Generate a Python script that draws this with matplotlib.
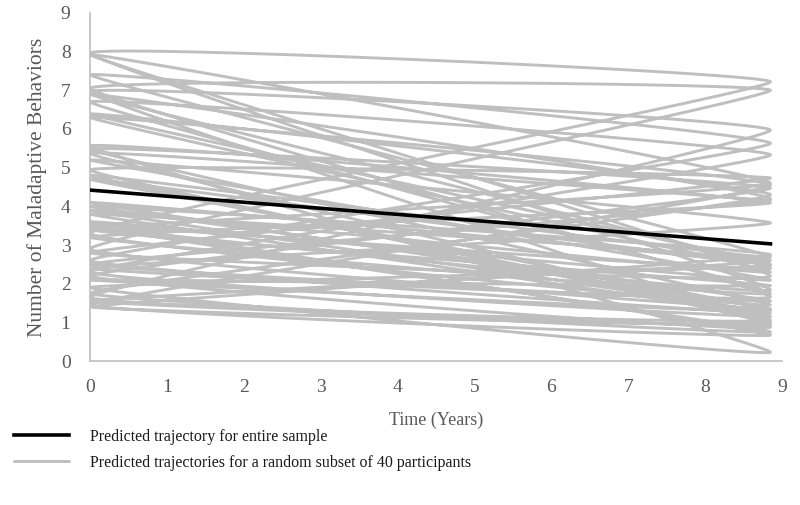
import numpy as np
import matplotlib
matplotlib.use("Agg")
import matplotlib.pyplot as plt

# ---- data ----
time_points = [0.0, 8.85]
# predicted trajectory for entire sample
sample_start = 4.42
sample_end = 3.03
# 40 participants (in series order): value at time 0 and at final time
part_start = [3.45, 7.96, 3.30, 5.48, 2.20, 6.96, 1.65, 4.80, 7.40, 2.60,
              3.90, 6.30, 1.45, 3.60, 5.20, 2.40, 7.05, 2.90, 4.10, 1.90,
              5.56, 3.20, 6.70, 2.30, 3.80, 1.55, 4.94, 2.80, 7.92, 3.40,
              2.10, 4.70, 6.39, 1.75, 3.50, 6.90, 2.50, 4.00, 1.40, 5.37]
part_end = [1.84, 7.22, 1.45, 4.47, 0.88, 5.97, 1.06, 2.69, 5.63, 1.24,
            2.30, 4.55, 0.67, 2.09, 3.57, 1.66, 7.00, 1.35, 2.48, 0.23,
            4.09, 1.75, 5.33, 1.15, 2.60, 0.95, 4.73, 2.20, 4.60, 1.95,
            1.30, 2.50, 4.30, 0.75, 2.40, 4.20, 1.55, 2.75, 1.00, 4.15]
x_ticks = list(range(0, 10))
y_ticks = list(range(0, 10))
legend_labels = ["Predicted trajectory for entire sample",
                 "Predicted trajectories for a random subset of 40 participants"]

# ---- build one smoothed series (spreadsheet-style smoothed scatter line) ----
px, py = [], []
for s, e in zip(part_start, part_end):
    px += [time_points[0], time_points[1]]
    py += [s, e]
P = np.column_stack([px, py])
n = len(P)
k = 0.05
curve = []
tt = np.linspace(0, 1, 60)
for i in range(n - 1):
    p0 = P[i - 1] if i > 0 else P[i]
    p1 = P[i]
    p2 = P[i + 1]
    p3 = P[i + 2] if i + 2 < n else P[i + 1]
    c1 = p1 + (p2 - p0) * k
    c2 = p2 - (p3 - p1) * k
    b = ((1 - tt) ** 3)[:, None] * p1 + (3 * (1 - tt) ** 2 * tt)[:, None] * c1 \
        + (3 * (1 - tt) * tt ** 2)[:, None] * c2 + (tt ** 3)[:, None] * p2
    curve.append(b if i == 0 else b[1:])
curve = np.vstack(curve)

# ---- figure ----
plt.rcParams['font.family'] = ['Liberation Serif', 'DejaVu Serif']
fig = plt.figure(figsize=(8.0, 5.05), dpi=100)
ax = fig.add_axes([0.1125, 0.2851, 0.8650, 0.6892])

grey = '#bfbfbf'
txt = '#595959'
l2, = ax.plot(curve[:, 0], curve[:, 1], color=grey, lw=2.1,
              solid_capstyle='round', solid_joinstyle='round', zorder=2)
l1, = ax.plot(time_points, [sample_start, sample_end], color='black', lw=2.6, zorder=3)

ax.set_xlim(0, 9)
ax.set_ylim(0, 9)
ax.set_xticks(x_ticks)
ax.set_yticks(y_ticks)
ax.tick_params(axis='both', length=0, labelsize=14, colors=txt)
ax.tick_params(axis='x', pad=13)
ax.tick_params(axis='y', pad=14)
for side in ['top', 'right']:
    ax.spines[side].set_visible(False)
for side in ['left', 'bottom']:
    ax.spines[side].set_color(grey)
    ax.spines[side].set_linewidth(1.2)

ax.set_xlabel("Time (Years)", fontsize=13, color=txt, labelpad=11)
ax.set_ylabel("Number of Maladaptive Behaviors", fontsize=15.5, color=txt, labelpad=10)

fig.legend([l1, l2], legend_labels, loc='upper left', bbox_to_anchor=(0.009, 0.163),
           frameon=False, fontsize=11.5, handlelength=3.5, handletextpad=1.3,
           labelspacing=0.6, borderaxespad=0, labelcolor='#1a1a1a')

fig.savefig("out.png", dpi=100)
